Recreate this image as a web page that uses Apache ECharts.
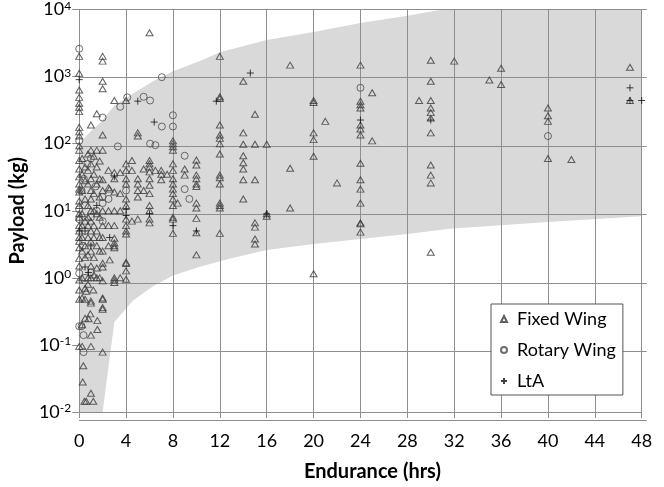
<!DOCTYPE html>
<html>
<head>
<meta charset="utf-8">
<script src="https://cdn.jsdelivr.net/npm/echarts@6/dist/echarts.min.js"></script>
<style>
html,body{margin:0;padding:0;background:#fff;}
#chart{width:664px;height:487px;}
</style>
</head>
<body>
<div id="chart"></div>
<script>
// ---- Data (Endurance in hrs, Payload in kg) ----
const fixedWingData = [
  [0,2000],[0,1120],[0,630],[0,490],[0,400],[0,350],[0,300],[0,175],[0,150],[0,130],[0,93],[0,80],[0,56],[0,42],[0,32],[0,25],[0,21],[0,19],[0,14],[0,12],[0,9],[0,8],[0,6],[0,5],[0,4],[0,3.5],[0,2.8],[0,1.95],[0,1.5],[0,0.93],[0,0.66],[0,0.48],[0,0.095],
  [0.25,60],[0.25,35],[0.25,20],[0.25,9],[0.25,6],[0.25,4],[0.25,2.5],[0.25,1.0],[0.25,0.5],[0.25,0.2],[0.25,0.095],[0.3,0.028],
  [0.35,0.049],[0.45,0.0145],
  [0.5,45],[0.5,28],[0.5,15],[0.5,7],[0.5,3],[0.5,2],[0.5,0.7],[0.5,0.48],[0.5,0.25],
  [0.6,0.0145],[0.6,0.63],
  [0.75,70],[0.75,40],[0.75,25],[0.75,12],[0.75,8],[0.75,6],[0.75,4],[0.75,2.2],[0.75,1.0],[0.75,0.8],[0.8,0.245],
  [1,190],[1,80],[1,50],[1,30],[1,20],[1,15],[1,10],[1,7],[1,5],[1,3.5],[1,2.5],[1,1.5],[1,1.0],[1,0.45],[1,0.42],[0.95,0.29],[1,0.14],[1,0.095],[1,0.019],
  [1.2,0.0145],[1.2,0.66],
  [1.25,65],[1.25,35],[1.25,18],[1.25,10],[1.25,6],[1.25,4],[1.25,2],[1.25,1.1],
  [1.5,280],[1.5,80],[1.5,45],[1.5,25],[1.5,9],[1.5,5],[1.5,3],[1.5,1.4],[1.5,1.0],[1.55,0.23],[1.55,0.17],
  [1.75,55],[1.75,30],[1.75,16],[1.75,8],[1.75,4],[1.75,2.5],[1.75,1.0],
  [2,2000],[2,1700],[2,850],[2,660],[2,135],[2,80],[2,29],[2,20],[2,10],[2,6],[2,4],[2,2.5],[2,1.65],[2,1.45],[2,0.9],[2,0.5],[2,0.48],[2,0.36],[2,0.34],[2,0.078],
  [2.5,40],[2.5,22],[2.5,10],[2.5,6],[2.5,3],[2.6,21],[2.6,1.85],
  [3,440],[3,37],[3,30],[3,19],[3,10],[3,6],[3,3.9],[3,3.3],[3,3.0],[3,2.8],[3,1.0],[3,0.93],[3,0.85],
  [3.5,37],[3.5,18],[3.5,10],[3.5,1.0],
  [4,440],[4,50],[4,40],[4,30],[4,25],[4,15],[4,12],[4,7.5],[4,6],[4,5],[4,4.5],[4,1.7],[4,1.64],[4,1.27],[4,0.95],
  [4.5,56],[4.5,40],[4.5,7],
  [5,145],[5,130],[5,30],[5,25],[5,20],[5,16],[5,7.5],
  [5.5,42],[5.5,20],
  [6,4500],[6,56],[6,50],[6,45],[6,38],[6,30],[6,24],[6,18],[6,12],[6,10],[6,7.5],[6,6.6],
  [6.5,40],[7,35],[7,29],[7,40],[7.5,35],
  [8,110],[8,100],[8,90],[8,80],[8,50],[8,40],[8,30],[8,25],[8,21],[8,18],[8,15],[8,12],[8,8],[8,7.5],[8,4.6],
  [8.4,13],[9,42],[9,34],
  [10,57],[10,48],[10,34],[10,30],[10,25],[10,23],[10,13],[10,11],[10,7.7],[10,4.7],[10,2.2],
  [12,2000],[12,500],[12,470],[12,190],[12,135],[12,120],[12,100],[12,70],[12,34],[12,31],[12,25],[12,13],[12,12],[12,11],[12,4.6],
  [14,850],[14,145],[14,98],[14,66],[14,52],[14,42],[14,29],[14,15],
  [15,275],[15,98],[15,29],[15,6.6],[15,5.7],[15,3.8],[15,3.2],
  [16,98],[16,9],[16,8.3],
  [18,1480],[18,43],[18,11],
  [20,440],[20,410],[20,145],[20,115],[20,65],[20,1.15],
  [21,215],[22,26],
  [24,1480],[24,430],[24,380],[24,340],[24,190],[24,165],[24,135],[24,51],[24,29],[24,21],[24,13],[24,6.6],[24,6.4],[24,4.8],
  [25,575],[25,110],[29,440],
  [30,1750],[30,850],[30,440],[30,340],[30,290],[30,240],[30,145],[30,48],[30,34],[30,26],[30,2.4],
  [32,1700],[35,890],[36,1330],[36,760],
  [40,340],[40,260],[40,215],[40,60],[42,58],
  [47,1380],[47,440]
];
const rotaryWingData = [
  [0,2600],[0,110],[0,10.5],[0,7.5],[0,1.17],[0,0.19],[0.2,0.19],[0.37,0.14],[0.37,0.078],[0.5,1.0],[0.3,3],[0.5,5],
  [1,8],[0.2,20],[0.5,12],[1.5,10],[2,7],[0.4,30],[0.7,50],[1,60],[1.4,23],[2,16],[2,13],[2.5,15],[2,245],[3.3,91],
  [3.5,355],[4.1,490],[5.5,500],[6.05,440],[6.05,100],[6.5,95],[7.05,980],[7.05,180],[8,265],[8,180],[9,66],[9,21],
  [9.4,15],[4,20],[1,1.2],[24,680],[40,130]
];
const ltaData = [
  [0,900],[0,5],[0.5,1.45],[0.5,5],[1,3],[0.8,1.2],[1.5,12],[2.6,4],[3,32],[4,10.5],[4,8.5],[5,430],[6,9],[6.4,210],
  [8,6],[10,5],[11.7,430],[14.6,1130],[16,9],[24,225],[30,225],[47,680],[47,440],[48,440]
];
// shaded envelope (upper boundary left->right, lower boundary right->left)
const envelopeUpper = [[0,0.01],[0,98],[0.5,125],[1,155],[1.8,205],[3,370],[4.6,560],[6.3,850],[8,1200],[10.3,1700],[12,2300],[16,3500],[20,4600],[24,6300],[28,8100],[31,10000],[48,10000]];
const envelopeLower = [[48,8.3],[40,6.8],[31.6,5.4],[28,4.5],[24,3.8],[20,3.2],[16,2.6],[12.9,1.94],[10.3,1.46],[8,1.08],[6.3,0.75],[4.6,0.46],[3,0.22],[2,0.01]];
const seriesNames = ['Fixed Wing','Rotary Wing','LtA'];

const FONT = 'Lato';
const GRID_COLOR = '#8e8e8e';
const chart = echarts.init(document.getElementById('chart'), null, {renderer:'canvas'});

const envelopePolygon = envelopeUpper.concat(envelopeLower);

chart.setOption({
  animation: false,
  backgroundColor: '#fff',
  textStyle: {fontFamily: FONT},
  grid: [
    {left: 79, right: 22.3, top: 9, bottom: 67, containLabel: false},
    {left: 79, right: 17.3, top: 9, bottom: 67, containLabel: false}
  ],
  xAxis: [{
    type: 'value', gridIndex: 0, min: 0, max: 48, interval: 4, z: 1,
    name: 'Endurance (hrs)', nameLocation: 'middle', nameGap: 50,
    nameTextStyle: {fontFamily: FONT, fontWeight: 'bold', fontSize: 20, color: '#000', padding: [0,0,0,24]},
    axisLine: {show: true, lineStyle: {color: GRID_COLOR, width: 1}},
    axisTick: {show: true, length: 6, lineStyle: {color: GRID_COLOR}},
    axisLabel: {fontFamily: FONT, fontSize: 18, color: '#000', margin: 20},
    splitLine: {show: true, lineStyle: {color: GRID_COLOR, width: 1}}
  },{
    type: 'value', gridIndex: 1, min: 0, max: 1, show: false
  }],
  yAxis: [{
    type: 'log', gridIndex: 0, min: 0.01, max: 10000, logBase: 10, z: 1,
    name: 'Payload (kg)', nameLocation: 'middle', nameGap: 42, nameRotate: 90,
    nameTextStyle: {fontFamily: FONT, fontWeight: 'bold', fontSize: 20, color: '#000'},
    axisLine: {show: true, lineStyle: {color: GRID_COLOR, width: 1}},
    axisTick: {show: true, length: 7, lineStyle: {color: GRID_COLOR}},
    axisLabel: {
      margin: 8,
      formatter: function (v) {
        const e = Math.round(Math.log10(v));
        return '{b|10}{s|' + e + '}';
      },
      rich: {
        b: {fontFamily: FONT, fontSize: 18, color: '#000', lineHeight: 19},
        s: {fontFamily: FONT, fontSize: 12, color: '#000', verticalAlign: 'top', lineHeight: 12}
      }
    },
    splitLine: {show: false}
  },{
    type: 'log', gridIndex: 1, min: 0.01, max: 10000, logBase: 10, z: 1,
    axisLine: {show: false}, axisTick: {show: false}, axisLabel: {show: false},
    splitLine: {show: true, lineStyle: {color: GRID_COLOR, width: 1}}
  }],
  legend: {
    orient: 'vertical', left: 491, top: 304,
    padding: [6, 7, 5, 9], itemGap: 13, itemWidth: 6, itemHeight: 6,
    backgroundColor: '#fff', borderColor: '#555', borderWidth: 1,
    textStyle: {fontFamily: FONT, fontSize: 18, color: '#000', padding: [0, 0, 0, 5]},
    data: [
      {name: 'Fixed Wing', icon: 'triangle'},
      {name: 'Rotary Wing', icon: 'circle'},
      {name: 'LtA', icon: 'path://M0,4L8,4M4,0L4,8'}
    ]
  },
  series: [
    {
      type: 'custom', name: 'envelope', xAxisIndex: 0, yAxisIndex: 0, z: 0, silent: true, clip: true,
      data: [[1, 1]],
      renderItem: function (params, api) {
        const pts = envelopePolygon.map(p => api.coord(p));
        return {type: 'polygon', shape: {points: pts}, style: {fill: '#d9d9d9', stroke: null}};
      }
    },
    {
      type: 'scatter', name: seriesNames[0], xAxisIndex: 0, yAxisIndex: 0, z: 3,
      symbol: 'triangle', symbolSize: [7, 6],
      itemStyle: {color: 'rgba(0,0,0,0)', borderColor: '#3a3a3a', borderWidth: 1},
      data: fixedWingData
    },
    {
      type: 'scatter', name: seriesNames[1], xAxisIndex: 0, yAxisIndex: 0, z: 3,
      symbol: 'circle', symbolSize: 7,
      itemStyle: {color: 'rgba(0,0,0,0)', borderColor: '#4a4a4a', borderWidth: 1},
      data: rotaryWingData
    },
    {
      type: 'scatter', name: seriesNames[2], xAxisIndex: 0, yAxisIndex: 0, z: 3,
      symbol: 'path://M0,4L8,4M4,0L4,8', symbolSize: 7,
      itemStyle: {color: 'rgba(0,0,0,0)', borderColor: '#111', borderWidth: 1},
      data: ltaData
    }
  ]
});
</script>
</body>
</html>
